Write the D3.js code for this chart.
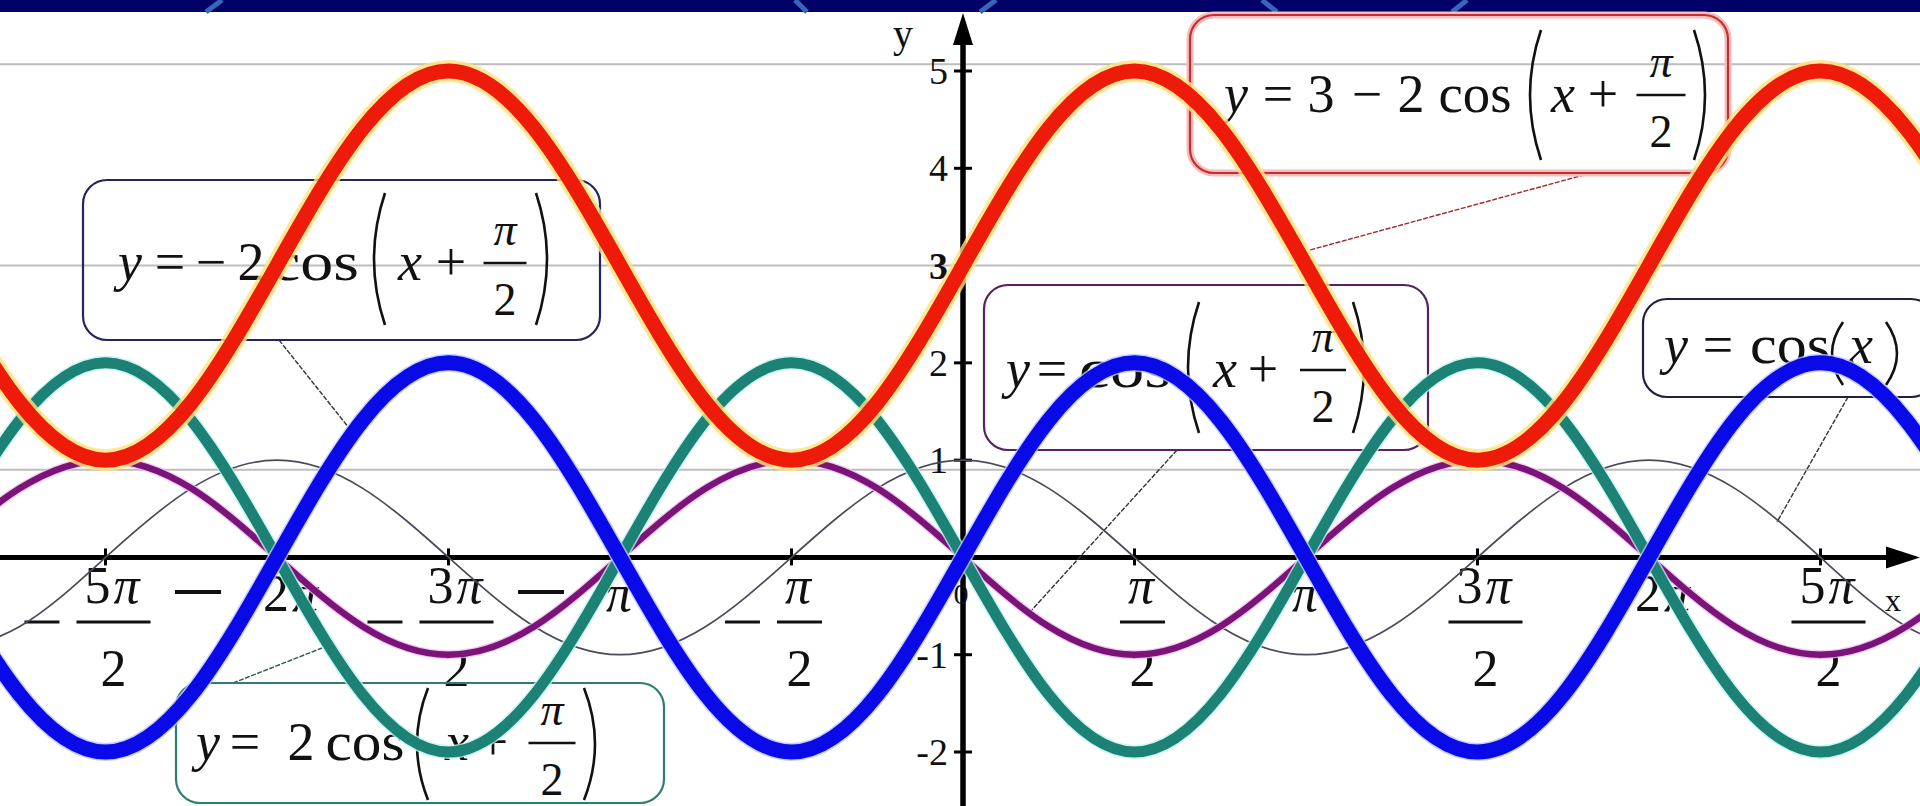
<!DOCTYPE html>
<html><head><meta charset="utf-8">
<script src="https://cdn.jsdelivr.net/npm/d3@7"></script>
<style>html,body{margin:0;padding:0;background:#fff;overflow:hidden}</style>
</head><body>
<svg id="c" width="1920" height="806"></svg>
<script>
const PI = Math.PI;
// sample abscissae, in quarters of π
const xQuarterPi = [-12,-11,-10,-9,-8,-7,-6,-5,-4,-3,-2,-1,0,1,2,3,4,5,6,7,8,9,10,11,12];
// y = 3 - 2cos(x + π/2)
const redValues = [3,1.59,1,1.59,3,4.41,5,4.41,3,1.59,1,1.59,3,4.41,5,4.41,3,1.59,1,1.59,3,4.41,5,4.41,3];
// y = -2cos(x + π/2)
const blueValues = [0,-1.41,-2,-1.41,0,1.41,2,1.41,0,-1.41,-2,-1.41,0,1.41,2,1.41,0,-1.41,-2,-1.41,0,1.41,2,1.41,0];
// y = 2cos(x + π/2)
const tealValues = [0,1.41,2,1.41,0,-1.41,-2,-1.41,0,1.41,2,1.41,0,-1.41,-2,-1.41,0,1.41,2,1.41,0,-1.41,-2,-1.41,0];
// y = cos(x + π/2)
const purpleValues = [0,0.71,1,0.71,0,-0.71,-1,-0.71,0,0.71,1,0.71,0,-0.71,-1,-0.71,0,0.71,1,0.71,0,-0.71,-1,-0.71,0];
// y = cos(x)
const cosValues = [-1,-0.71,0,0.71,1,0.71,0,-0.71,-1,-0.71,0,0.71,1,0.71,0,-0.71,-1,-0.71,0,0.71,1,0.71,0,-0.71,-1];

// x ticks in multiples of π/2
const xTickMultiples = [-5,-4,-3,-2,-1,0,1,2,3,4,5];
const xTickNumerators = ["5π","2π","3π","π","π","0","π","π","3π","2π","5π"];
const xTickDenominators = ["2","","2","","2","","2","","2","","2"];
const yTickValues = [5,4,3,2,1,-1,-2];
const yTickLabels = ["5","4","3","2","1","-1","-2"];
const gridValues = [5.07,3.0,0.9];

const W = 1920, H = 806;
const svg = d3.select("#c");
const x = d3.scaleLinear().domain([-5*PI/2, 5*PI/2]).range([105.5, 1820.5]);
const y = d3.scaleLinear().domain([-2, 5]).range([752, 71]);
const X0 = x(0), Y0 = y(0);
const SERIF = "'Liberation Serif','Times New Roman',serif";

// top band
const band = svg.append("g");
band.append("rect").attr("x",0).attr("y",0).attr("width",W).attr("height",12).attr("fill","#000068");
[[206,12,222,0],[795,0,807,12],[980,12,996,0],[1262,0,1277,12],[1452,12,1467,0]].forEach(s=>{
  band.append("line").attr("x1",s[0]).attr("y1",s[1]).attr("x2",s[2]).attr("y2",s[3])
    .attr("stroke","#3766b8").attr("stroke-width",5);
});

// gridlines
svg.append("g").selectAll("line").data(gridValues).join("line")
  .attr("x1",0).attr("x2",W).attr("y1",d=>y(d)).attr("y2",d=>y(d))
  .attr("stroke","#bdbdbd").attr("stroke-width",2);

// axes
const ax = svg.append("g");
ax.append("line").attr("x1",0).attr("x2",W-26).attr("y1",Y0).attr("y2",Y0).attr("stroke","#000").attr("stroke-width",5);
ax.append("path").attr("d",`M${W},${Y0} L${W-34},${Y0-11} L${W-34},${Y0+11} Z`).attr("fill","#000");
ax.append("line").attr("x1",X0).attr("x2",X0).attr("y1",38).attr("y2",H).attr("stroke","#000").attr("stroke-width",5.5);
ax.append("path").attr("d",`M${X0},13 L${X0-10},45 L${X0+10},45 Z`).attr("fill","#000");
ax.selectAll(".xt").data(xTickMultiples.filter(m=>m!==0)).join("line")
  .attr("x1",m=>x(m*PI/2)).attr("x2",m=>x(m*PI/2)).attr("y1",Y0-9).attr("y2",Y0+8)
  .attr("stroke","#000").attr("stroke-width",3);
ax.selectAll(".yt").data(yTickValues).join("line")
  .attr("x1",X0-9).attr("x2",X0+9).attr("y1",d=>y(d)).attr("y2",d=>y(d))
  .attr("stroke","#000").attr("stroke-width",3);

// y tick labels
ax.selectAll(".yl").data(yTickValues).join("text")
  .attr("x",948).attr("y",d=>y(d)+13).attr("text-anchor","end")
  .attr("font-family",SERIF).attr("font-size",38).attr("fill","#111")
  .attr("font-weight",d=>d===3?"bold":"normal")
  .text((d,i)=>yTickLabels[i]);
ax.append("text").attr("x",903).attr("y",47).attr("text-anchor","middle")
  .attr("font-family",SERIF).attr("font-size",40).attr("fill","#111").text("y");
ax.append("text").attr("x",1893).attr("y",611).attr("text-anchor","middle")
  .attr("font-family",SERIF).attr("font-size",32).attr("fill","#111").text("x");

// x tick labels
function piText(sel, s){
  const parts = s.match(/[0-9]+|π/g) || [];
  parts.forEach(p=>{
    sel.append("tspan").attr("font-style", p==="π"?"italic":"normal").text(p);
  });
}
const xl = svg.append("g").attr("font-family",SERIF).attr("fill","#111");
xTickMultiples.forEach((m,i)=>{
  const px = x(m*PI/2);
  const num = xTickNumerators[i], den = xTickDenominators[i];
  if (m === 0) {
    xl.append("text").attr("x",px-2).attr("y",604).attr("text-anchor","middle").attr("font-size",30).text(num);
    return;
  }
  if (den) {
    const cx = px + 8;
    const t = xl.append("text").attr("x",cx).attr("y",603).attr("text-anchor","middle")
      .attr("font-size",52).attr("letter-spacing",3);
    piText(t, num);
    const w = t.node().getComputedTextLength() + 16;
    xl.append("line").attr("x1",cx-w/2).attr("x2",cx+w/2).attr("y1",622).attr("y2",622).attr("stroke","#111").attr("stroke-width",3);
    xl.append("text").attr("x",cx).attr("y",686).attr("text-anchor","middle").attr("font-size",52).text(den);
    if (m < 0) {
      xl.append("line").attr("x1",cx-w/2-52).attr("x2",cx-w/2-17).attr("y1",622).attr("y2",622).attr("stroke","#111").attr("stroke-width",3);
    }
  } else {
    const sx = px - 14;
    const t = xl.append("text").attr("x",sx).attr("y",611).attr("text-anchor","start")
      .attr("font-size",52).attr("letter-spacing",3);
    piText(t, num);
    if (m < 0) {
      xl.append("line").attr("x1",sx-88).attr("x2",sx-42).attr("y1",592).attr("y2",592).attr("stroke","#111").attr("stroke-width",4);
    }
  }
});

// annotation boxes (layout)
const boxes = [
  {rect:[83,180,517,160], stroke:"#25255e", bar:263, leader:[279,340,349,428], lc:"#333",
   tokens:[{t:"y",cx:130,it:1},{t:"=",cx:170},{t:"−",cx:211},{t:"2",cx:251},{t:"cos",cx:315,w:88},
     {p:"(",cx:378,top:193,bot:325},{t:"x",cx:410,it:1},{t:"+",cx:451},{f:1,cx:505,w:43},{p:")",cx:543,top:193,bot:325}]},
  {rect:[1190,15,538,158], stroke:"#c03030", glow:"#f7bcbc", bar:95, leader:[1591,173,1310,250], lc:"#a02828",
   tokens:[{t:"y",cx:1236,it:1},{t:"=",cx:1278},{t:"3",cx:1321},{t:"−",cx:1367},{t:"2",cx:1411},{t:"cos",cx:1475,w:73},
     {p:"(",cx:1534,top:30,bot:160},{t:"x",cx:1563,it:1},{t:"+",cx:1603},{f:1,cx:1661,w:49},{p:")",cx:1701,top:30,bot:160}]},
  {rect:[984,285,444,165], stroke:"#5a2060", bar:370, leader:[1177,450,1030,612], lc:"#333",
   tokens:[{t:"y",cx:1018,it:1},{t:"=",cx:1052},{t:"cos",cx:1125,w:92},
     {p:"(",cx:1192,top:302,bot:433},{t:"x",cx:1225,it:1},{t:"+",cx:1263},{f:1,cx:1323,w:46},{p:")",cx:1360,top:302,bot:433}]},
  {rect:[1643,299,292,98], stroke:"#202040", bar:346, leader:[1848,397,1777,522], lc:"#333",
   tokens:[{t:"y",cx:1676,it:1},{t:"=",cx:1718},{t:"cos",cx:1790,w:80},
     {p:"(",cx:1836,top:322,bot:385},{t:"x",cx:1861,it:1},{p:")",cx:1893,top:322,bot:385}]},
  {rect:[176,683,488,120], stroke:"#2e7d72", bar:743, leader:[233,683,322,648], lc:"#2e5a55",
   tokens:[{t:"y",cx:208,it:1},{t:"=",cx:245},{t:"2",cx:301},{t:"cos",cx:365,w:79},
     {p:"(",cx:421,top:688,bot:800},{t:"x",cx:457,it:1},{t:"+",cx:493},{f:1,cx:552,w:47},{p:")",cx:591,top:688,bot:800}]}
];
const ann = svg.append("g").attr("font-family",SERIF).attr("fill","#111");
boxes.forEach(b=>{
  const [bx,by,bw,bh] = b.rect;
  ann.append("line").attr("x1",b.leader[0]).attr("y1",b.leader[1]).attr("x2",b.leader[2]).attr("y2",b.leader[3])
    .attr("stroke",b.lc).attr("stroke-width",1.4).attr("stroke-dasharray","5,1.5");
  if (b.glow) ann.append("rect").attr("x",bx).attr("y",by).attr("width",bw).attr("height",bh).attr("rx",24)
    .attr("fill","none").attr("stroke",b.glow).attr("stroke-width",7);
  ann.append("rect").attr("x",bx).attr("y",by).attr("width",bw).attr("height",bh).attr("rx",24)
    .attr("fill","none").attr("stroke",b.stroke).attr("stroke-width",2.2);
  const base = b.bar + 17;
  b.tokens.forEach(tk=>{
    if (tk.t) {
      const t = ann.append("text").attr("x",tk.cx).attr("y",base).attr("text-anchor","middle")
        .attr("font-size",54).attr("font-style",tk.it?"italic":"normal").text(tk.t);
      if (tk.w) t.attr("textLength",tk.w).attr("lengthAdjust","spacingAndGlyphs");
    } else if (tk.p) {
      const mid = (tk.top+tk.bot)/2, dx = tk.p==="(" ? 1 : -1;
      ann.append("path").attr("d",`M${tk.cx+7*dx},${tk.top} Q${tk.cx-15*dx},${mid} ${tk.cx+7*dx},${tk.bot}`)
        .attr("fill","none").attr("stroke","#111").attr("stroke-width",2.6);
    } else if (tk.f) {
      ann.append("text").attr("x",tk.cx).attr("y",b.bar-18).attr("text-anchor","middle")
        .attr("font-size",46).attr("font-style","italic").text("π");
      ann.append("line").attr("x1",tk.cx-tk.w/2).attr("x2",tk.cx+tk.w/2).attr("y1",b.bar).attr("y2",b.bar)
        .attr("stroke","#111").attr("stroke-width",2.6);
      ann.append("text").attr("x",tk.cx).attr("y",b.bar+52).attr("text-anchor","middle")
        .attr("font-size",46).text("2");
    }
  });
});

// curves
const line = d3.line().x(d=>x(d[0]*PI/4)).y(d=>y(d[1])).curve(d3.curveNatural);
const series = [
  {vals:cosValues, color:"#4a4a5a", width:1.7},
  {vals:purpleValues, color:"#7a1478", width:6.5, halo:"#f0b8ec", hw:9},
  {vals:tealValues, color:"#1d8276", width:11, halo:"#bdf3ee", hw:14},
  {vals:blueValues, color:"#0a0ae8", width:15, halo:"#b8c4ff", hw:18},
  {vals:redValues, color:"#ee1a0a", width:15, halo:"#ffe27a", hw:22}
];
const cg = svg.append("g").attr("fill","none").attr("stroke-linecap","round");
series.forEach(s=>{
  const pts = xQuarterPi.map((q,i)=>[q, s.vals[i]]);
  if (s.halo) cg.append("path").attr("d",line(pts)).attr("stroke",s.halo).attr("stroke-width",s.hw).attr("opacity",0.8);
  cg.append("path").attr("d",line(pts)).attr("stroke",s.color).attr("stroke-width",s.width);
});
</script>
</body></html>
